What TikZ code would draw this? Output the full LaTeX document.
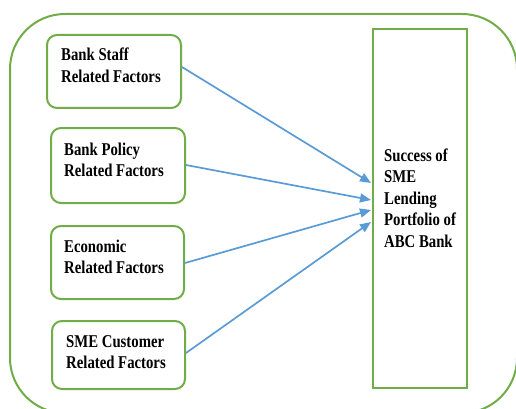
\documentclass[tikz,border=0pt]{standalone}
\usepackage{fontspec}
\setmainfont{Liberation Serif}[FakeStretch=0.82]
\usetikzlibrary{arrows.meta,calc}
\definecolor{lgreen}{RGB}{112,173,71}
\definecolor{lblue}{RGB}{91,155,213}
\tikzset{
  factorbox/.style={draw=lgreen, line width=2pt, rounded corners=10pt, minimum width=134pt, inner sep=0pt},
  targetbox/.style={draw=lgreen, line width=2pt, inner sep=0pt, minimum width=94pt, minimum height=359pt},
  outerbox/.style={draw=lgreen, line width=2pt, rounded corners=55pt},
  lbl/.style={anchor=base west, inner sep=0pt, font=\fontsize{18}{21.5}\selectfont\bfseries},
  conn/.style={draw=lblue, line width=1.7pt, -{Triangle[length=11pt,width=9pt]}},
}
\begin{document}
\begin{tikzpicture}[x=1pt,y=-1pt]
\useasboundingbox (0,0) rectangle (516,409);
\draw[outerbox] (10,14) rectangle (517,413);
\node[factorbox, minimum height=73pt] (b1) at (114,71.5) {};
\node[factorbox, minimum height=75pt] (b2) at (118,165.5) {};
\node[factorbox, minimum height=73pt, minimum width=133pt] (b3) at (117.5,262.5) {};
\node[factorbox, minimum height=68pt, minimum width=133pt] (b4) at (118.5,355) {};
\node[targetbox] (tgt) at (420,208.5) {};
\node[lbl] (t1) at (61,61) {\begin{tabular}[t]{@{}l@{}}Bank Staff\\Related Factors\end{tabular}};
\node[lbl] (t2) at (64,155) {\begin{tabular}[t]{@{}l@{}}Bank Policy\\Related Factors\end{tabular}};
\node[lbl] (t3) at (64,252) {\begin{tabular}[t]{@{}l@{}}Economic\\Related Factors\end{tabular}};
\node[lbl] (t4) at (66,347) {\begin{tabular}[t]{@{}l@{}}SME Customer\\Related Factors\end{tabular}};
\node[lbl] (t5) at (384,161) {\begin{tabular}[t]{@{}l@{}}Success of\\SME\\Lending\\Portfolio of\\ABC Bank\end{tabular}};
\draw[conn] ($(b1.east)+(0,-4.5)$) -- ($(tgt.west)+(-1,-25.5)$);
\draw[conn] ($(b2.east)+(0,-0.5)$) -- ($(tgt.west)+(-1,-8.5)$);
\draw[conn] ($(b3.east)+(0,0.5)$) -- ($(tgt.west)+(-1,1.5)$);
\draw[conn] ($(b4.east)+(0,-2)$) -- ($(tgt.west)+(-1,13.5)$);
\end{tikzpicture}
\end{document}
